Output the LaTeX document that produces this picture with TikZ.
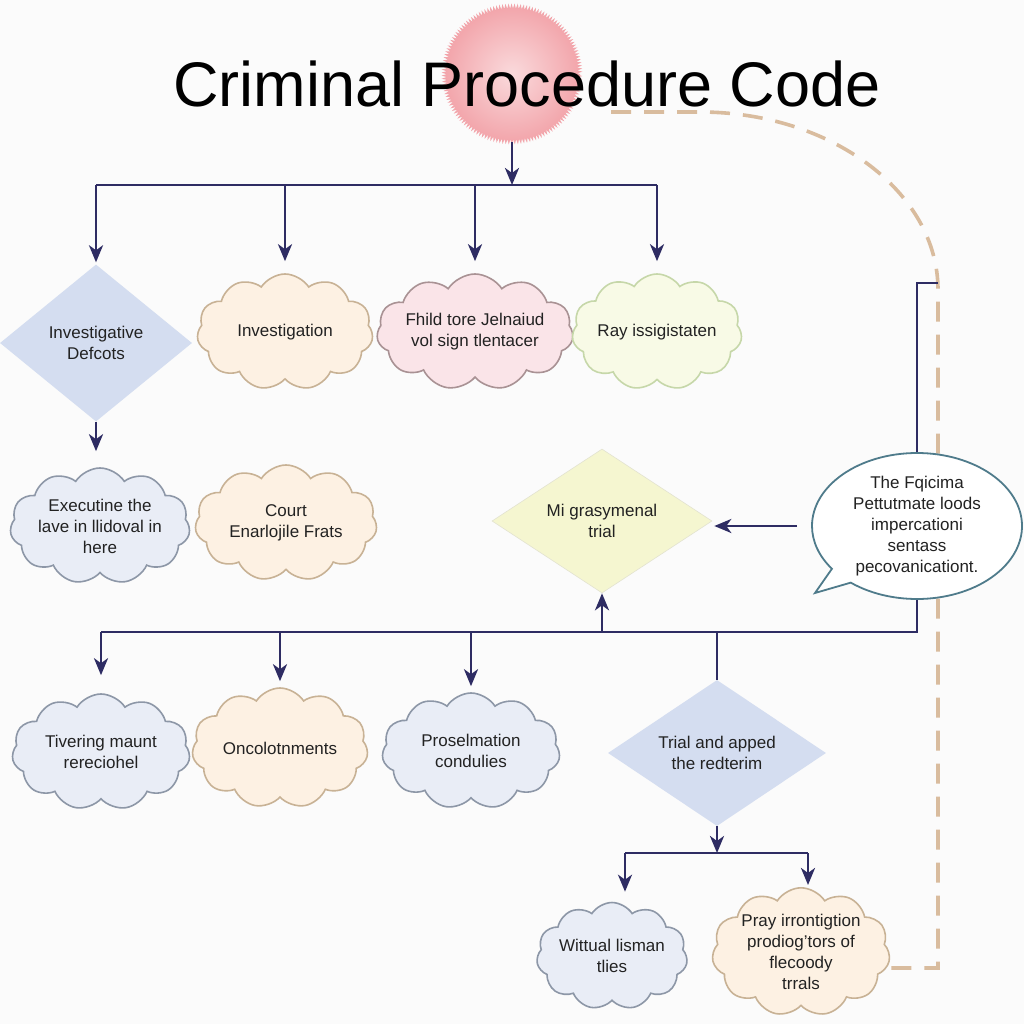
\documentclass[tikz,border=0pt]{standalone}
\usepackage{fontspec}
\setmainfont{Liberation Sans}
\usetikzlibrary{arrows.meta,shapes.geometric,shapes.symbols,shapes.callouts,decorations.pathmorphing}

\definecolor{navy}{HTML}{2E2C63}
\definecolor{ink}{HTML}{222222}
\definecolor{sand}{HTML}{D9BC9E}
\definecolor{sunin}{HTML}{FADADC}
\definecolor{sunout}{HTML}{F2A3A9}
\definecolor{diablue}{HTML}{D4DDF0}
\definecolor{diayellow}{HTML}{F5F6D0}
\definecolor{peach}{HTML}{FDF1E3}
\definecolor{peachline}{HTML}{C8B295}
\definecolor{rose}{HTML}{FAE4E8}
\definecolor{roseline}{HTML}{A99294}
\definecolor{limefill}{HTML}{F8FAE6}
\definecolor{limeline}{HTML}{C6D7A9}
\definecolor{mist}{HTML}{E9EDF6}
\definecolor{mistline}{HTML}{8D97A7}
\definecolor{bubbleline}{HTML}{4F7B8B}

\begin{document}
\begin{tikzpicture}[x=1pt, y=-1pt,
    every node/.style={font=\fontsize{17}{21}\selectfont, text=ink, align=center},
    wire/.style={draw=navy, line width=2.8pt},
    link/.style={wire, -{Stealth[length=17pt, width=14pt, inset=5pt]}, shorten >=6pt},
    dashline/.style={draw=sand, line width=3.6pt, dash pattern=on 20pt off 13pt},
    puffbox/.style={cloud, cloud puffs=11, cloud puff arc=115, cloud ignores aspect,
        minimum width=176pt, minimum height=116pt, inner sep=0pt, line width=1.6pt},
    diabox/.style={diamond, aspect=1.5, inner sep=0pt, fill=diablue},
    bubble/.style={ellipse callout, draw=bubbleline, fill=white, line width=1.8pt,
        inner sep=0pt, minimum width=210pt, minimum height=146pt}]

    \useasboundingbox (0,0) rectangle (1024,1024);
    \fill[white!97!gray] (0,0) rectangle (1024,1024);

    % title
    \node[circle, minimum size=136pt, inner sep=0pt, decorate,
        decoration={zigzag, segment length=3pt, amplitude=2.5pt},
        inner color=sunin, outer color=sunout] (sun) at (512,74) {};
    \node[font=\fontsize{63}{70}\selectfont, text=black, anchor=base] (title) at (527,107) {Criminal Procedure Code};

    % dashed return line
    \coordinate (d0) at (611,112);
    \coordinate (d1) at (938,290);
    \coordinate (d2) at (880,968);
    \draw[dashline] (d0) -- (700,112) .. controls (831,112) and (938,192) .. (d1) -- (d1 |- d2) -- (d2);

    % first row
    \node[diabox, minimum width=192pt, minimum height=157pt] (diaA) at (96,343) {Investigative\\Defcots};
    \node[puffbox, fill=peach, draw=peachline] (clInv) at (285,332) {Investigation};
    \node[puffbox, fill=rose, draw=roseline] (clFhild) at (475,332) {Fhild tore Jelnaiud\\vol sign tlentacer};
    \node[puffbox, fill=limefill, draw=limeline, minimum width=170pt] (clRay) at (657,332) {Ray issigistaten};

    % second row
    \node[puffbox, fill=mist, draw=mistline, minimum width=180pt] (clExec) at (100,526) {Executine the\\lave in llidoval in\\here};
    \node[puffbox, fill=peach, draw=peachline, minimum width=182pt] (clCourt) at (286,523) {Court\\Enarlojile Frats};
    \node[diabox, fill=diayellow, draw=diayellow!85!black!60, line width=0.6pt,
        minimum width=220pt, minimum height=144pt] (diaMi) at (602,521) {Mi grasymenal\\trial};
    \coordinate (tail) at (815,593);
    \node[bubble, callout absolute pointer={(tail)}] (bub) at (917,526)
        {The Fqicima\\Pettutmate loods\\impercationi\\sentass\\pecovanicationt.};

    % third row
    \node[puffbox, fill=mist, draw=mistline, minimum width=178pt] (clTiv) at (101,752) {Tivering maunt\\rereciohel};
    \node[puffbox, fill=peach, draw=peachline, minimum height=120pt] (clOnc) at (280,748) {Oncolotnments};
    \node[puffbox, fill=mist, draw=mistline, minimum width=178pt] (clPros) at (471,751) {Proselmation\\condulies};
    \node[diabox, minimum width=218pt, minimum height=146pt] (diaTrial) at (717,753) {Trial and apped\\the redterim};

    % fourth row
    \node[puffbox, fill=mist, draw=mistline, minimum width=148pt, minimum height=107pt] (clWitt) at (612,956) {Wittual lisman\\tlies};
    \node[puffbox, fill=peach, draw=peachline, minimum width=166pt, minimum height=119pt] (clPray) at (801,952) {Pray irrontigtion\\prodiog'tors of\\flecoody\\trrals};

    % top branches
    \coordinate (b1) at (512,185);
    \draw[link, shorten >=0pt] (sun.south) -- (b1);
    \draw[wire] (diaA.north |- b1) -- (clRay.north |- b1);
    \draw[link, shorten >=2pt] (diaA.north |- b1) -- (diaA.north);
    \draw[link, shorten >=12pt] (clInv.north |- b1) -- (clInv.north);
    \draw[link, shorten >=12pt] (clFhild.north |- b1) -- (clFhild.north);
    \draw[link, shorten >=12pt] (clRay.north |- b1) -- (clRay.north);
    \draw[link, shorten >=16pt] (diaA.south) -- (diaA.south |- clExec.north);

    % bubble links
    \draw[link, shorten >=2pt] ([xshift=-14pt]bub.west) -- (bub.west -| diaMi.east);
    \coordinate (r1) at (938,283);
    \draw[wire] (bub.north) |- (r1);

    % middle branches
    \coordinate (b2) at (602,632);
    \draw[wire] (bub.south) |- (clTiv.north |- b2);
    \draw[link, shorten >=18pt] (clTiv.north |- b2) -- (clTiv.north);
    \draw[link] (clOnc.north |- b2) -- (clOnc.north);
    \draw[link] (clPros.north |- b2) -- (clPros.north);
    \draw[link, shorten >=0pt] (b2) -- (diaMi.south);
    \draw[wire] (diaTrial.north |- b2) -- (diaTrial.north);

    % bottom branches
    \coordinate (b3) at (717,853);
    \coordinate (b3l) at (625,853);
    \coordinate (b3r) at (808,853);
    \draw[link, shorten >=0pt] (diaTrial.south) -- (b3);
    \draw[wire] (b3l) -- (b3r);
    \draw[link, shorten >=10pt] (b3l) -- (b3l |- clWitt.north);
    \draw[link, shorten >=2pt] (b3r) -- (b3r |- clPray.north);
\end{tikzpicture}
\end{document}
